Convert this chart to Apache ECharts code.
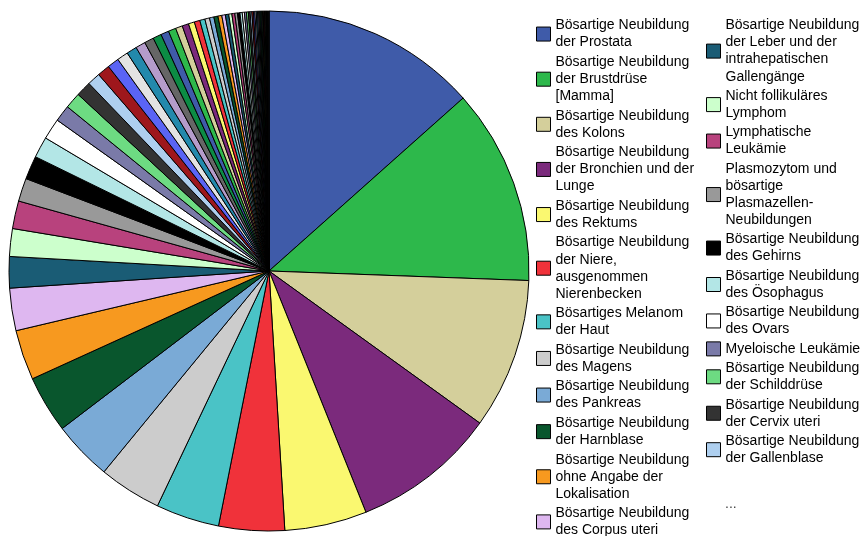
<!DOCTYPE html>
<html>
<head>
<meta charset="utf-8">
<script src="https://cdn.jsdelivr.net/npm/echarts@6/dist/echarts.min.js"></script>
<style>
html,body{margin:0;padding:0;background:#fff;}
#chart{width:864px;height:536px;}
</style>
</head>
<body>
<div id="chart"></div>
<script>
// Legend categories (sorted by size, as in the pie)
const categories = [
  'Bösartige Neubildung der Prostata',
  'Bösartige Neubildung der Brustdrüse [Mamma]',
  'Bösartige Neubildung des Kolons',
  'Bösartige Neubildung der Bronchien und der Lunge',
  'Bösartige Neubildung des Rektums',
  'Bösartige Neubildung der Niere, ausgenommen Nierenbecken',
  'Bösartiges Melanom der Haut',
  'Bösartige Neubildung des Magens',
  'Bösartige Neubildung des Pankreas',
  'Bösartige Neubildung der Harnblase',
  'Bösartige Neubildung ohne Angabe der Lokalisation',
  'Bösartige Neubildung des Corpus uteri',
  'Bösartige Neubildung der Leber und der intrahepatischen Gallengänge',
  'Nicht follikuläres Lymphom',
  'Lymphatische Leukämie',
  'Plasmozytom und bösartige Plasmazellen-Neubildungen',
  'Bösartige Neubildung des Gehirns',
  'Bösartige Neubildung des Ösophagus',
  'Bösartige Neubildung des Ovars',
  'Myeloische Leukämie',
  'Bösartige Neubildung der Schilddrüse',
  'Bösartige Neubildung der Cervix uteri',
  'Bösartige Neubildung der Gallenblase'
];
// Wrapped legend labels, same order as categories
const legendLabels = [
  'Bösartige Neubildung\nder Prostata',
  'Bösartige Neubildung\nder Brustdrüse\n[Mamma]',
  'Bösartige Neubildung\ndes Kolons',
  'Bösartige Neubildung\nder Bronchien und der\nLunge',
  'Bösartige Neubildung\ndes Rektums',
  'Bösartige Neubildung\nder Niere,\nausgenommen\nNierenbecken',
  'Bösartiges Melanom\nder Haut',
  'Bösartige Neubildung\ndes Magens',
  'Bösartige Neubildung\ndes Pankreas',
  'Bösartige Neubildung\nder Harnblase',
  'Bösartige Neubildung\nohne Angabe der\nLokalisation',
  'Bösartige Neubildung\ndes Corpus uteri',
  'Bösartige Neubildung\nder Leber und der\nintrahepatischen\nGallengänge',
  'Nicht follikuläres\nLymphom',
  'Lymphatische\nLeukämie',
  'Plasmozytom und\nbösartige\nPlasmazellen-\nNeubildungen',
  'Bösartige Neubildung\ndes Gehirns',
  'Bösartige Neubildung\ndes Ösophagus',
  'Bösartige Neubildung\ndes Ovars',
  'Myeloische Leukämie',
  'Bösartige Neubildung\nder Schilddrüse',
  'Bösartige Neubildung\nder Cervix uteri',
  'Bösartige Neubildung\nder Gallenblase'
];
// Values of the 23 named categories
const mainValues = [48300, 43800, 33700, 32300, 18400, 14700, 14200, 14000, 13300, 12800,
  11200, 9500, 7000, 6200, 6200, 5200, 5250, 4700, 4700, 3700, 3600, 3400, 2900];
// Values of the remaining (unnamed, "...") slices
const restValues = [2800, 2600, 2500, 2300, 2200, 2100, 1900,
  1800, 1700, 1550, 1450, 1350, 1250, 1150, 1050, 980, 920,
  860, 800, 750, 700, 650, 600, 550, 500, 480, 450, 420,
  400, 380, 350, 320, 300, 280, 260, 240, 220, 200,
  180, 160, 150, 140, 130, 120, 110, 100, 100, 90,
  80, 80, 70, 60, 50];
const restNames = restValues.map((v, i) => 'Weitere ' + (i + 1));

const palette = ['#3F5BA9','#2DB84B','#D4CF9B','#7B2A7C','#FAF870','#F0323A','#4AC3C6','#CCCCCC',
  '#7AAAD6','#09562D','#F7991F','#DEB7F0','#1A5C75','#CCFFCC','#B8427D','#999999','#000000',
  '#B3E6E6','#FFFFFF','#7A7AA8','#6DDB82','#333333','#AECFEF','#9E171C','#5A64F5','#E3E3E3',
  '#2389AC','#B59CCB','#666666','#0C8C44'];

const pieData = categories.map((n, i) => ({name: n, value: mainValues[i]}))
  .concat(restNames.map((n, i) => ({name: n, value: restValues[i]})));

const labelMap = {};
categories.forEach((n, i) => { labelMap[n] = legendLabels[i]; });
labelMap['...'] = '...';

const legendText = {fontFamily: 'Liberation Sans, Arial, sans-serif', fontSize: 14, lineHeight: 17.05, color: '#000'};
const legendBase = {
  orient: 'vertical', padding: 0, itemWidth: 14, itemHeight: 14, icon: 'rect',
  selectedMode: false, textStyle: legendText,
  formatter: n => labelMap[n] || n,
  itemStyle: {borderColor: '#000', borderWidth: 1}
};

const chart = echarts.init(document.getElementById('chart'), null, {renderer: 'canvas'});
chart.setOption({
  animation: false,
  color: palette,
  legend: [
    Object.assign({}, legendBase, {left: 536, top: 17, height: 530, itemGap: 2.5, data: categories.slice(0, 12)}),
    Object.assign({}, legendBase, {left: 706, top: 17, height: 530, itemGap: 2.35, data: categories.slice(12)}),
    Object.assign({}, legendBase, {left: 706, top: 496, height: 40, itemGap: 0,
      textStyle: Object.assign({}, legendText, {color: '#444'}),
      data: [{name: '...', itemStyle: {color: 'rgba(0,0,0,0)', borderColor: 'rgba(0,0,0,0)', borderWidth: 0}}]})
  ],
  series: [
    {
      type: 'pie',
      center: [269, 271],
      radius: [0, 260],
      startAngle: 90,
      clockwise: true,
      label: {show: false},
      labelLine: {show: false},
      itemStyle: {borderColor: '#000', borderWidth: 1},
      emphasis: {disabled: true, scale: false},
      silent: true,
      data: pieData
    },
    {
      type: 'pie',
      name: '...',
      center: [269, 271],
      radius: [0, 0],
      showEmptyCircle: false,
      silent: true,
      label: {show: false},
      data: []
    }
  ]
});
</script>
</body>
</html>
